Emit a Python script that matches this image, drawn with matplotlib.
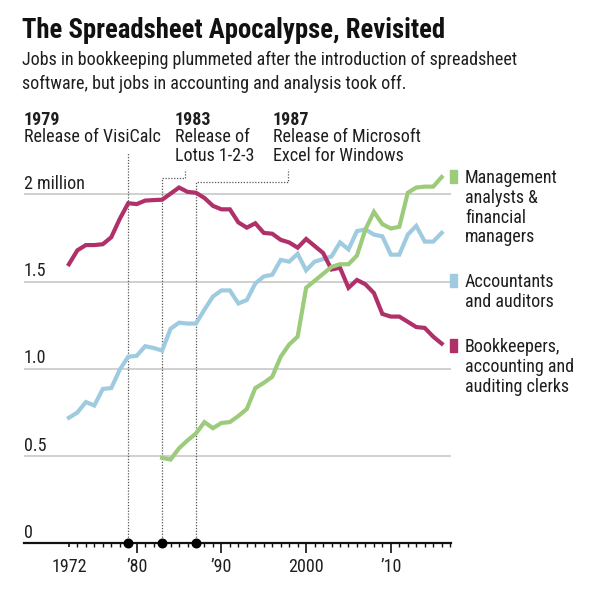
import matplotlib
matplotlib.use('Agg')
import matplotlib.pyplot as plt
from matplotlib import font_manager
from matplotlib.patches import Rectangle

# Data (millions of jobs)
years_bk = list(range(1972, 2017))
bookkeepers = [1.60, 1.68, 1.71, 1.71, 1.715, 1.755, 1.86, 1.95, 1.945, 1.965,
               1.968, 1.97, 2.005, 2.04, 2.015, 2.01, 1.98, 1.935, 1.915, 1.915,
               1.84, 1.81, 1.835, 1.78, 1.775, 1.74, 1.725, 1.695, 1.745, 1.705,
               1.665, 1.57, 1.58, 1.465, 1.51, 1.485, 1.435, 1.315, 1.30, 1.30,
               1.27, 1.24, 1.235, 1.185, 1.145]

years_acc = list(range(1972, 2017))
accountants = [0.72, 0.75, 0.81, 0.79, 0.885, 0.89, 0.995, 1.07, 1.075, 1.13,
               1.12, 1.105, 1.23, 1.265, 1.26, 1.26, 1.34, 1.415, 1.45, 1.45,
               1.375, 1.395, 1.49, 1.53, 1.54, 1.625, 1.615, 1.66, 1.565, 1.615,
               1.63, 1.645, 1.725, 1.685, 1.79, 1.80, 1.77, 1.76, 1.655, 1.655,
               1.77, 1.82, 1.73, 1.73, 1.78]

years_mgmt = list(range(1983, 2017))
management = [0.49, 0.48, 0.545, 0.59, 0.63, 0.695, 0.66, 0.69, 0.695, 0.73,
              0.77, 0.89, 0.92, 0.955, 1.07, 1.14, 1.185, 1.465, 1.505, 1.545,
              1.585, 1.60, 1.60, 1.65, 1.80, 1.90, 1.83, 1.805, 1.815, 2.01,
              2.04, 2.045, 2.045, 2.10]

y_ticks = [0, 0.5, 1.0, 1.5, 2.0]
y_labels = ['0', '0.5', '1.0', '1.5', '2 million']
x_ticks = [1972, 1980, 1990, 2000, 2010]
x_labels = ['1972', '\u201980', '\u201990', '2000', '\u201910']

event_years = [1979, 1983, 1987]
event_titles = ['Release of VisiCalc', 'Release of\nLotus 1-2-3',
                'Release of Microsoft\nExcel for Windows']

legend_labels = ['Management\nanalysts &\nfinancial\nmanagers',
                 'Accountants\nand auditors',
                 'Bookkeepers,\naccounting and\nauditing clerks']

MAGENTA = '#b0306a'
BLUE = '#9fcbe0'
GREEN = '#9ccb7b'
TEXT = '#1e1e1e'


def pick_font(names):
    have = {f.name for f in font_manager.fontManager.ttflist}
    for n in names:
        if n in have:
            return n
    return 'DejaVu Sans'


FONT = pick_font(['Liberation Sans Narrow', 'Roboto Condensed', 'Roboto'])
plt.rcParams['font.family'] = [FONT, 'DejaVu Sans']

W, H = 593, 594
fig = plt.figure(figsize=(W / 100, H / 100), dpi=100)


def fx(px):
    return px / W


def fy(py):
    return 1 - py / H


# axes: x 1966.7 at px 24, 2017.1 at px 451; y 0 at px 543.3, 2.3 at top
x0, x1 = 1966.7, 2017.1
ymax = 2.3
y_zero_px, px_per_m = 543.3, 174.4
top_px = y_zero_px - ymax * px_per_m
ax = fig.add_axes([fx(24), fy(y_zero_px), (451 - 24) / W, (y_zero_px - top_px) / H])
ax.set_xlim(x0, x1)
ax.set_ylim(0, ymax)
ax.patch.set_alpha(0)
for s in ['top', 'right', 'left']:
    ax.spines[s].set_visible(False)
ax.spines['bottom'].set_linewidth(1.6)
ax.spines['bottom'].set_color('#111111')

# gridlines
for v in y_ticks[1:]:
    ax.axhline(v, color='#c4c4c4', lw=1.1, zorder=1)
ax.set_yticks([])

# y labels above gridlines
for v, lab in zip(y_ticks, y_labels):
    ax.annotate(lab, xy=(x0, v), xytext=(0, 4), textcoords='offset points',
                ha='left', va='baseline', fontsize=13, color=TEXT)

# x ticks
ax.set_xticks(x_ticks)
ax.set_xticklabels(x_labels, fontsize=13, color=TEXT)
ax.set_xticks(range(1972, 2018), minor=True)
ax.tick_params(axis='x', which='major', length=7.5, width=1.2, pad=3, color='#111111')
ax.tick_params(axis='x', which='minor', length=3, width=1.0, color='#111111')
ax.xaxis.get_major_ticks()[0].tick1line.set_markersize(3)

# series
ax.plot(years_acc, accountants, color=BLUE, lw=3, solid_joinstyle='miter', zorder=3)
ax.plot(years_bk, bookkeepers, color=MAGENTA, lw=3, solid_joinstyle='miter', zorder=4)
ax.plot(years_mgmt, management, color=GREEN, lw=3, solid_joinstyle='miter', zorder=5)

# event leaders (dotted)
dot = dict(color='#555555', lw=0.9, ls=(0, (1, 1.3)), clip_on=False, zorder=2)
ax.plot([1979, 1979], [0, 2.244], **dot)
ax.plot([1983, 1983, 1985.67, 1985.67], [0, 2.095, 2.095, 2.135], **dot)
ax.plot([1987, 1987, 1997.86, 1997.86], [0, 2.073, 2.073, 2.146], **dot)
ax.scatter(event_years, [0, 0, 0], s=38, color='black', zorder=6, clip_on=False)

# event labels
event_x = [24, 175, 273]
for px, yr, txt in zip(event_x, event_years, event_titles):
    fig.text(fx(px), fy(125), str(yr), fontsize=13, fontweight='bold',
             color=TEXT, va='baseline', ha='left')
    for i, line in enumerate(txt.split('\n')):
        fig.text(fx(px), fy(141.5 + i * 19.5), line, fontsize=13,
                 color=TEXT, va='baseline', ha='left')

# legend
legend_colors = [GREEN, BLUE, MAGENTA]
legend_base = [183, 287, 352]
for col, base, lab in zip(legend_colors, legend_base, legend_labels):
    fig.patches.append(Rectangle((fx(450), fy(base)), 7 / W, 13.5 / H,
                                 transform=fig.transFigure, color=col))
    for i, line in enumerate(lab.split('\n')):
        fig.text(fx(465), fy(base + i * 19.8), line, fontsize=13,
                 color=TEXT, va='baseline', ha='left')

# title and subtitle
fig.text(fx(22), fy(37.5), 'The Spreadsheet Apocalypse, Revisited',
         fontsize=19.3, fontweight='bold', color='#111111', va='baseline')
fig.text(fx(22), fy(65), 'Jobs in bookkeeping plummeted after the introduction of spreadsheet',
         fontsize=13, color=TEXT, va='baseline')
fig.text(fx(22), fy(89), 'software, but jobs in accounting and analysis took off.',
         fontsize=13, color=TEXT, va='baseline')

fig.savefig('out.png', dpi=100)
